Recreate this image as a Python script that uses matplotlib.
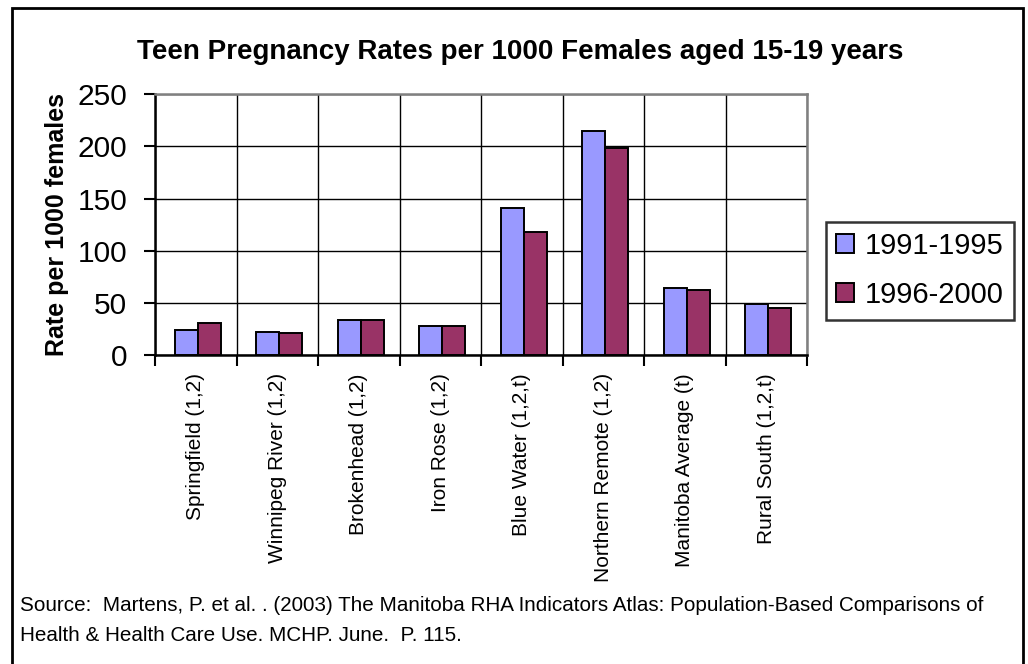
import matplotlib
matplotlib.use("Agg")
import matplotlib.pyplot as plt
from matplotlib.patches import Rectangle
import numpy as np

plt.rcParams['font.family'] = ['Liberation Sans', 'DejaVu Sans']

categories = ["Springfield (1,2)", "Winnipeg River (1,2)", "Brokenhead (1,2)",
              "Iron Rose (1,2)", "Blue Water (1,2,t)", "Northern Remote (1,2)",
              "Manitoba Average (t)", "Rural South (1,2,t)"]
rates_1991_1995 = [24.5, 22.5, 34, 28.5, 140.5, 215, 64.5, 49]
rates_1996_2000 = [30.5, 21, 34, 28.5, 118, 198, 62.5, 45]
series_labels = ["1991-1995", "1996-2000"]
yticks = [0, 50, 100, 150, 200, 250]

title = "Teen Pregnancy Rates per 1000 Females aged 15-19 years"
ylabel = "Rate per 1000 females"
source_lines = ["Source:  Martens, P. et al. . (2003) The Manitoba RHA Indicators Atlas: "
                "Population-Based Comparisons of",
                "Health & Health Care Use. MCHP. June.  P. 115."]

W, H = 1028, 664
fig = plt.figure(figsize=(W / 100, H / 100), dpi=100)
fig.patch.set_facecolor("white")

# outer frame
fig.add_artist(Rectangle((12 / W, -0.01), (1023 - 12) / W, 1 - 7.5 / H + 0.01,
                         transform=fig.transFigure, fill=False,
                         edgecolor="black", linewidth=2.0))

left, right, top, bottom = 155, 807, 94, 355.3
ax = fig.add_axes([left / W, 1 - bottom / H, (right - left) / W, (bottom - top) / H])

n = len(categories)
x = np.arange(n)
bw = 0.28
ax.bar(x + 0.385, rates_1991_1995, width=bw, color="#9999FF",
       edgecolor="black", linewidth=1.4, label=series_labels[0], zorder=3)
ax.bar(x + 0.665, rates_1996_2000, width=bw, color="#993366",
       edgecolor="black", linewidth=1.4, label=series_labels[1], zorder=3)

ax.set_xlim(0, n)
ax.set_ylim(0, 250)

# gridlines and category dividers
ax.set_yticks(yticks)
ax.set_yticklabels([str(v) for v in yticks], fontsize=21.5)
ax.set_xticks(np.arange(n + 1))
ax.set_xticklabels([])
ax.set_xticks(x + 0.5, minor=True)
ax.set_xticklabels(categories, minor=True, rotation=90, fontsize=15, va="top", ha="center")
ax.tick_params(axis="x", which="minor", length=0, pad=13)
ax.tick_params(axis="x", which="major", length=8, width=1.5, direction="out")
ax.tick_params(axis="y", which="major", length=8, width=1.5, direction="out", pad=12)
ax.grid(True, which="major", axis="both", color="black", linewidth=1.0, zorder=0)
ax.set_axisbelow(True)

for s in ("left", "bottom"):
    ax.spines[s].set_color("black")
    ax.spines[s].set_linewidth(1.8)
for s in ("top", "right"):
    ax.spines[s].set_color("#808080")
    ax.spines[s].set_linewidth(1.8)

ax.set_ylabel(ylabel, fontsize=18, fontweight="bold")
ax.yaxis.set_label_coords(-0.132, 0.5)

fig.text(520 / W, 1 - 52 / H, title, fontsize=20, fontweight="bold",
         ha="center", va="center")

leg = fig.legend(loc="upper left", bbox_to_anchor=(825.7 / W, 1 - 221.7 / H),
                 fontsize=21, frameon=True, fancybox=False, edgecolor="black",
                 handlelength=0.62, handleheight=0.62, handletextpad=0.35,
                 labelspacing=0.72, borderpad=0.36, borderaxespad=0)
leg.get_frame().set_linewidth(1.8)

for i, line in enumerate(source_lines):
    fig.text(20 / W, 1 - (611 + 30 * i) / H, line, fontsize=14.9,
             ha="left", va="baseline")

fig.savefig("out.png", dpi=100)
